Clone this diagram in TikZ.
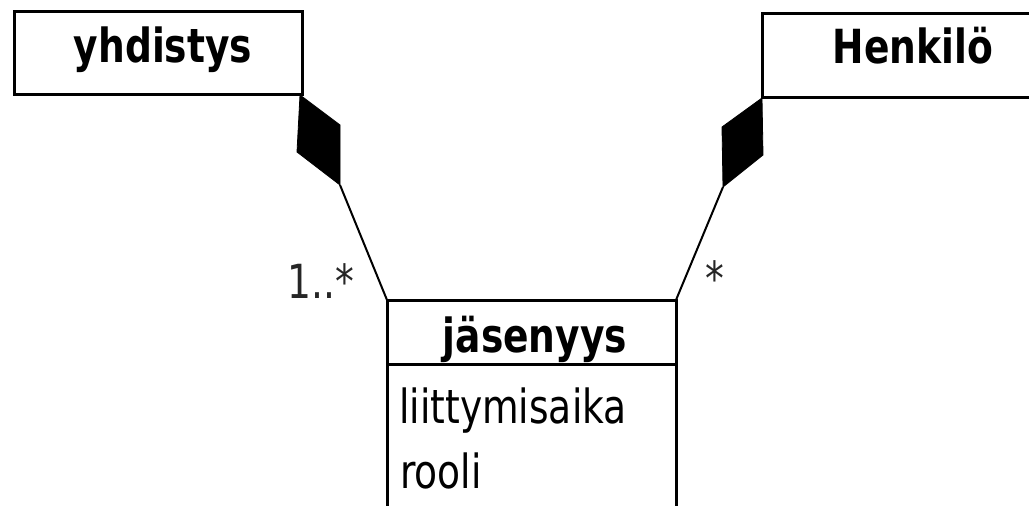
\documentclass[tikz,border=0pt]{standalone}
\usepackage{fontspec}
\setmainfont{DejaVu Sans}[FakeStretch=0.8]
\begin{document}
\begin{tikzpicture}[x=1pt,y=-1pt,
  box/.style={draw=black, line width=3pt, inner sep=0pt, outer sep=0pt, anchor=north west},
  title/.style={font=\fontsize{47}{56}\selectfont\bfseries, inner sep=0pt, anchor=base},
  attr/.style={font=\fontsize{47}{56}\selectfont, inner sep=0pt, anchor=base west},
  mult/.style={font=\fontsize{47}{56}\selectfont, text=black!85, inner sep=0pt},
  link/.style={line width=2pt},
  comp/.style={fill=black, draw=black, line width=0.8pt, line join=miter}]
  \useasboundingbox (0,0) rectangle (1029,506);
  \clip (0,0) rectangle (1029,506);

  % class boxes
  \node[box, minimum width=288pt, minimum height=83pt] (yh) at (14,11) {};
  \node[box, minimum width=300pt, minimum height=84pt] (he) at (762,13) {};
  \node[box, minimum width=289pt, minimum height=230pt] (jas) at (387,300) {};

  % class names
  \node[title] (yhname) at (163,62) {yhdistys};
  \node[title] (hename) at (913,63) {Henkilö};
  \node[title] (jasname) at (535,352) {jäsenyys};

  % attribute compartment
  \coordinate (sepL) at (387,364);
  \coordinate (sepR) at (676,364);
  \draw[line width=3pt] (sepL) -- (sepR);
  \node[attr] (a1) at (399,423) {liittymisaika};
  \node[attr] (a2) at (400,488) {rooli};

  % composition diamonds
  \coordinate (ldTop) at (300,95);
  \coordinate (ldR) at (340,125);
  \coordinate (ldBot) at (340,185);
  \coordinate (ldL) at (297,152);
  \fill[comp] (ldTop) -- (ldR) -- (ldBot) -- (ldL) -- cycle;

  \coordinate (rdTop) at (762,98);
  \coordinate (rdL) at (722,127);
  \coordinate (rdBot) at (723,187);
  \coordinate (rdR) at (763,155);
  \fill[comp] (rdTop) -- (rdL) -- (rdBot) -- (rdR) -- cycle;

  % association lines
  \draw[link] (ldBot) -- (jas.north west);
  \draw[link] (rdBot) -- (jas.north east);

  % multiplicities
  \node[mult, anchor=base east] (m1) at (354,298) {1..*};
  \node[mult, anchor=base] (m2) at (715,295) {*};
\end{tikzpicture}
\end{document}
